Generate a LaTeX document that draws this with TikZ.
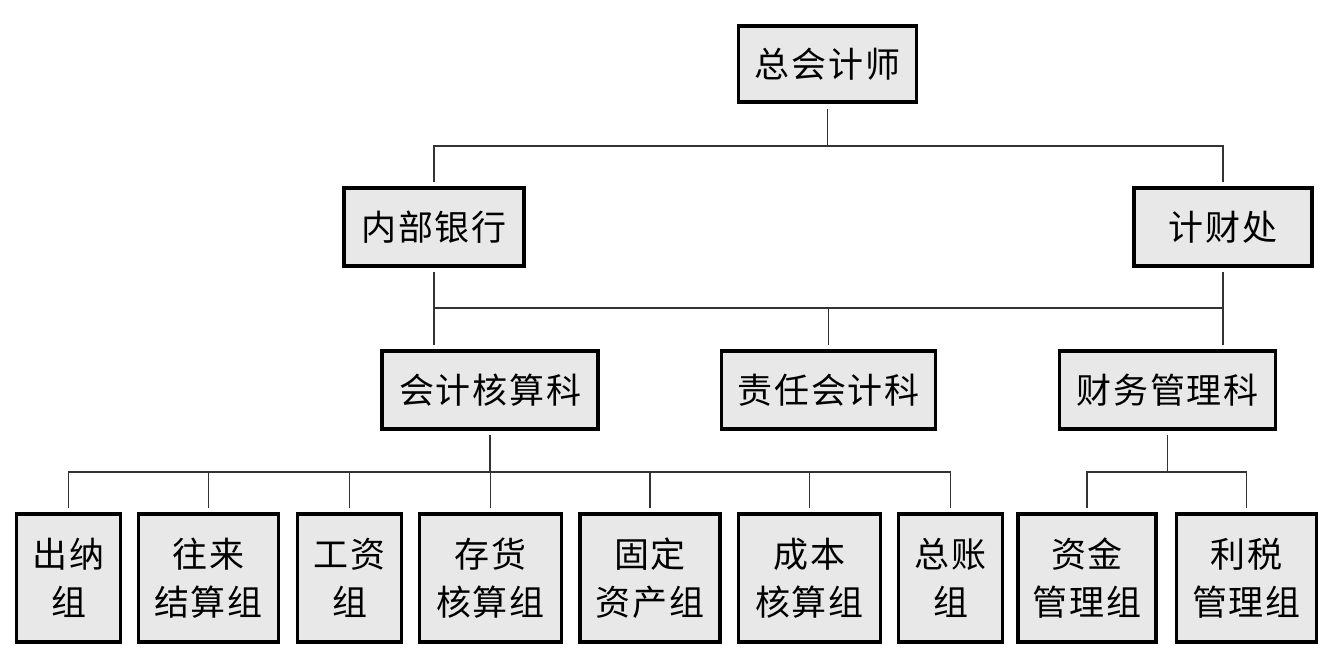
\documentclass[tikz,border=0pt]{standalone}
\usepackage{fontspec}
\newfontfamily\cjk[LetterSpace=5]{Noto Sans CJK SC}
\begin{document}
\begin{tikzpicture}[x=0.5pt,y=-0.5pt,
  box/.style={draw=black,line width=1.6pt,fill=black!9,inner sep=0pt,align=center,
    font=\cjk\fontsize{17.5}{24}\selectfont},
  conn/.style={draw=black!80,line width=0.75pt},
  gap/.style={shorten <=2pt,shorten >=2pt}]
\useasboundingbox (0,0) rectangle (1326,663);
% top
\node[box,minimum width=89pt,minimum height=38pt] (zkj) at (827.5,64) {总会计师};
\node[box,minimum width=90pt,minimum height=39pt] (nbyh) at (434,227) {内部银行};
\node[box,minimum width=89pt,minimum height=39pt] (jcc) at (1223,227) {计财处};
% middle
\node[box,minimum width=108pt,minimum height=39pt] (kjhs) at (490,390) {会计核算科};
\node[box,minimum width=107pt,minimum height=39pt] (zrkj) at (828.5,390) {责任会计科};
\node[box,minimum width=108pt,minimum height=39pt] (cwgl) at (1167.5,390) {财务管理科};
% bottom
\tikzset{low/.style={box,minimum height=64pt}}
\node[low,minimum width=52pt] (cn) at (68.5,578) {出纳\\组};
\node[low,minimum width=70pt] (wl) at (208.5,578) {往来\\结算组};
\node[low,minimum width=52pt] (gz) at (349.5,578) {工资\\组};
\node[low,minimum width=71pt] (ch) at (490.5,578) {存货\\核算组};
\node[low,minimum width=70pt] (gd) at (650,578) {固定\\资产组};
\node[low,minimum width=71pt] (cb) at (809.5,578) {成本\\核算组};
\node[low,minimum width=52pt] (zz) at (950.5,578) {总账\\组};
\node[low,minimum width=69pt] (zj) at (1087,578) {资金\\管理组};
\node[low,minimum width=70pt] (ls) at (1246.5,578) {利税\\管理组};
% bus coordinates
\coordinate (b1) at (0,146);
\coordinate (b2) at (0,308);
\coordinate (b3) at (0,472);
% level 1
\draw[conn,shorten <=2.5pt] (zkj.south) -- (zkj.south |- b1);
\draw[conn,gap] (nbyh.north) -- (nbyh.north |- b1) -- (jcc.north |- b1) -- (jcc.north);
% level 2
\draw[conn,gap] (nbyh.south) -- (nbyh.south |- kjhs.north);
\draw[conn,gap] (jcc.south) -- (jcc.south |- cwgl.north);
\draw[conn] (nbyh.south |- b2) -- (jcc.south |- b2);
\draw[conn,shorten >=2pt] (zrkj.north |- b2) -- (zrkj.north);
% level 3 left
\draw[conn,shorten <=2pt] (kjhs.south) -- (kjhs.south |- b3);
\draw[conn,gap] (cn.north) -- (cn.north |- b3) -- (zz.north |- b3) -- (zz.north);
\foreach \n in {wl,gz,ch,gd,cb}{
  \draw[conn,shorten >=2pt] (\n.north |- b3) -- (\n.north);
}
% level 3 right
\draw[conn,shorten <=2pt] (cwgl.south) -- (cwgl.south |- b3);
\draw[conn,gap] (zj.north) -- (zj.north |- b3) -- (ls.north |- b3) -- (ls.north);
\end{tikzpicture}
\end{document}
